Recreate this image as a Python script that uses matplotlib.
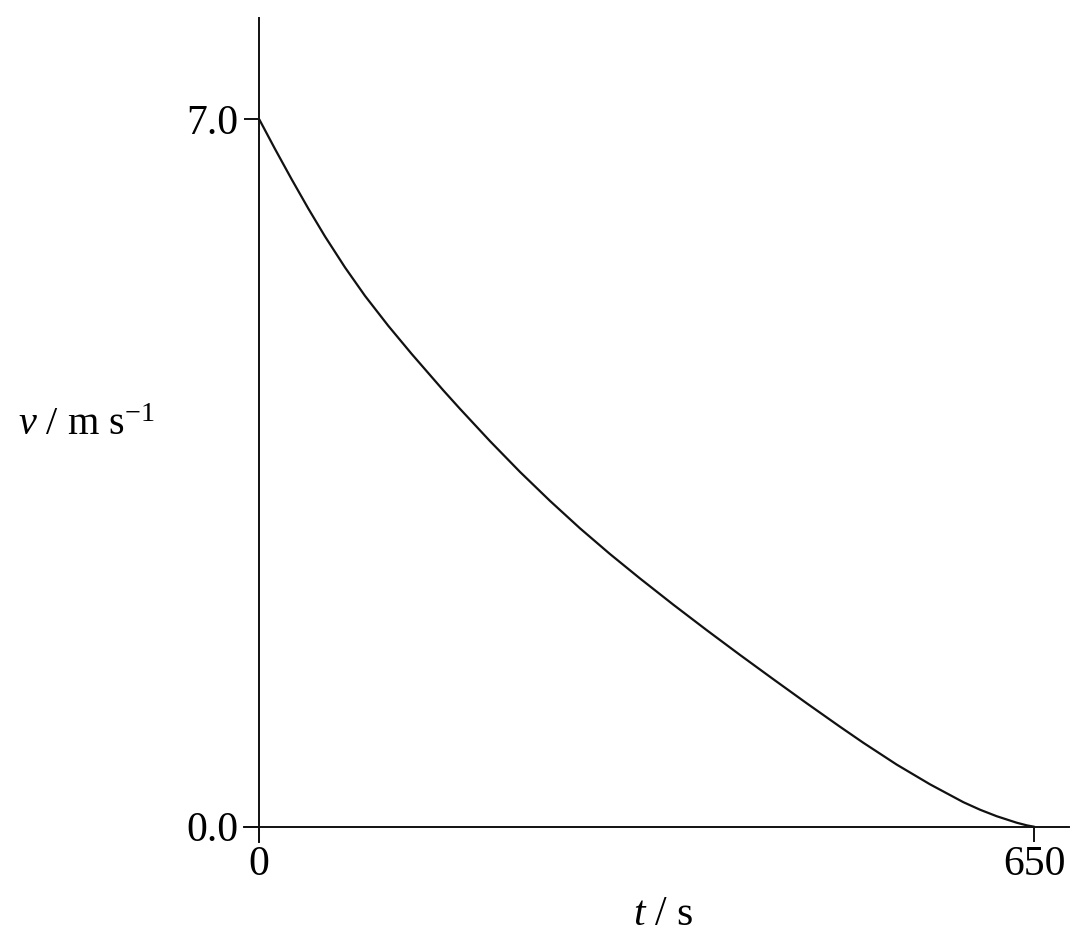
import matplotlib
matplotlib.use("Agg")
import matplotlib.pyplot as plt

# values
t_s = [0, 13.2, 27.2, 41.1, 55.1, 71.9, 88.7, 108.2, 127.8, 154.3, 168.3,
       193.5, 218.7, 243.8, 269.0, 294.1, 319.3, 347.2, 375.2, 403.2, 431.1,
       459.1, 487.0, 506.6, 534.6, 562.5, 590.5, 604.6, 618.5, 635.2, 644.0,
       650]
v_ms = [7.0, 6.707, 6.406, 6.118, 5.842, 5.535, 5.253, 4.957, 4.679, 4.319,
        4.136, 3.816, 3.511, 3.225, 2.953, 2.699, 2.457, 2.198, 1.946, 1.700,
        1.460, 1.222, 0.990, 0.831, 0.615, 0.420, 0.243, 0.168, 0.104, 0.040,
        0.013, 0.0]

x_ticks = [0, 650]
x_ticklabels = ["0", "650"]
y_ticks = [0.0, 7.0]
y_ticklabels = ["0.0", "7.0"]

plt.rcParams["font.family"] = ["Liberation Serif", "DejaVu Serif"]
plt.rcParams["mathtext.fontset"] = "custom"
plt.rcParams["mathtext.rm"] = "Liberation Serif"
plt.rcParams["mathtext.it"] = "Liberation Serif:italic"

W, H = 1085, 944
fig = plt.figure(figsize=(W / 100, H / 100), dpi=100)

# axes box in pixels: x 244..1069, y 18..842
ax = fig.add_axes([244 / W, (H - 841.7) / H, 825 / W, (841.7 - 18.3) / H])
ax.set_xlim(-12.8, 679.1)
ax.set_ylim(-0.148, 8.0)

ax.plot(t_s, v_ms, color="#111111", lw=1.6, solid_capstyle="round",
        solid_joinstyle="round")

for side in ["top", "right"]:
    ax.spines[side].set_visible(False)
ax.spines["left"].set_position(("data", 0))
ax.spines["bottom"].set_position(("data", 0))
for side in ["left", "bottom"]:
    ax.spines[side].set_linewidth(1.4)
    ax.spines[side].set_color("#111111")

ax.set_xticks(x_ticks)
ax.set_xticklabels(x_ticklabels)
ax.set_yticks(y_ticks)
ax.set_yticklabels(y_ticklabels)
ax.tick_params(axis="both", direction="out", length=10.8, width=1.4,
               color="#111111", labelsize=30, labelcolor="#000000")
ax.tick_params(axis="x", pad=3)
ax.tick_params(axis="y", pad=4)

fig.text(18 / W, 1 - 435 / H, r"$\it{v}$ / m s$^{-1}$", fontsize=29,
         ha="left", va="baseline", color="#000000")
fig.text(633 / W, 1 - 925 / H, r"$\it{t}$ / s", fontsize=30,
         ha="left", va="baseline", color="#000000")

fig.savefig("out.png", dpi=100, facecolor="white")
